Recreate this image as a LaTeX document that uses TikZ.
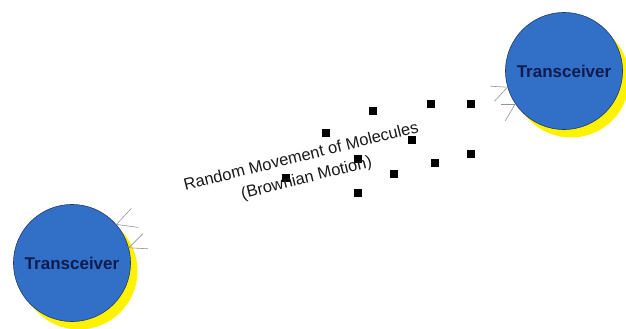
\documentclass[tikz,border=0pt]{standalone}
\usepackage{fontspec}
\setmainfont{Liberation Sans}
\usetikzlibrary{shadows}
\definecolor{trxblue}{RGB}{50,112,200}
\definecolor{trxline}{RGB}{30,60,110}
\definecolor{trxtext}{RGB}{14,28,80}
\begin{document}
\begin{tikzpicture}[x=1pt,y=-1pt,
 trx/.style={circle,draw=trxline,line width=0.6pt,fill=trxblue,minimum size=117pt,inner sep=0pt,text=trxtext,
  font=\fontsize{17}{20}\selectfont\bfseries,
  drop shadow={shadow xshift=7pt,shadow yshift=-8pt,fill=yellow,opacity=1}},
 mol/.style={fill=black,minimum size=8.5pt,inner sep=0pt},
 ant/.style={draw=gray!85,line width=0.6pt}]
\useasboundingbox (0,0) rectangle (626,329);
\node[trx] (tl) at (72,263) {Transceiver};
\node[trx] (tr) at (564,71) {Transceiver};
% molecules
\foreach \x/\y [count=\n] in {373/111,431/104,471/104,326/133,412/140,358/159,471/154,435/163,394/174,286/178,358/193}
  \node[mol] (m\n) at (\x,\y) {};
\node[rotate=14,align=center,text=black!90,font=\fontsize{16.5}{22}\selectfont] (lbl) at (304,168)
  {Random Movement of Molecules\\(Brownian Motion)};
% antennas
\draw[ant] (tl.41) -- ++(15,-16); \draw[ant] (tl.41) -- ++(22,3);
\draw[ant] (tl.15) -- ++(14,-14); \draw[ant] (tl.15) -- ++(19,1);
\draw[ant] (tr.196) -- ++(-17,-1); \draw[ant] (tr.196) -- ++(-13,14);
\draw[ant] (tr.214) -- ++(-14,0); \draw[ant] (tr.214) -- ++(-10,17);
\end{tikzpicture}
\end{document}
